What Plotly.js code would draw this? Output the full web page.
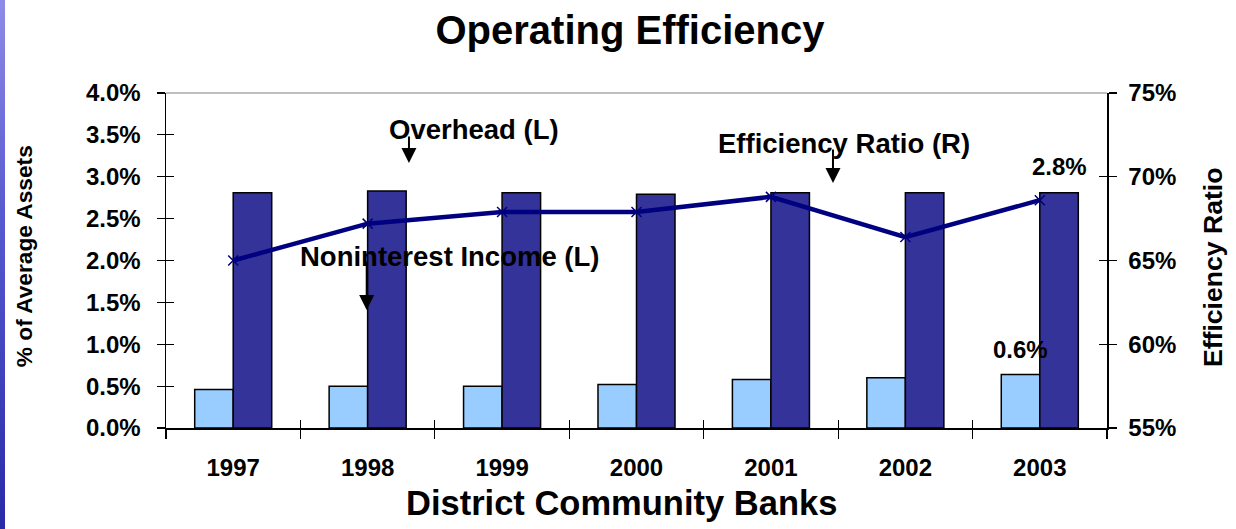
<!DOCTYPE html>
<html>
<head>
<meta charset="utf-8">
<script src="https://cdn.plot.ly/plotly-3.0.1.min.js"></script>
<style>
  html, body { margin: 0; padding: 0; background: #ffffff; }
  #chart { width: 1236px; height: 529px; }
  #strip { position: absolute; left: 0; top: 0; width: 5px; height: 529px;
           background: linear-gradient(to bottom, #8c8ce8 0%, #5a5ad0 40%, #2a2aa8 100%); z-index: 10; }
</style>
</head>
<body>
<div id="strip"></div>
<div id="chart"></div>
<script>
// ---- data ----
const years = ['1997', '1998', '1999', '2000', '2001', '2002', '2003'];
const noninterestIncome = [0.46, 0.50, 0.50, 0.52, 0.58, 0.60, 0.64];   // % of average assets (L)
const overhead = [2.81, 2.83, 2.81, 2.79, 2.81, 2.81, 2.81];           // % of average assets (L)
const efficiencyRatio = [65.0, 67.2, 67.9, 67.9, 68.8, 66.4, 68.6];    // % (R)
const leftTicks = [0, 0.5, 1.0, 1.5, 2.0, 2.5, 3.0, 3.5, 4.0];
const rightTicks = [55, 60, 65, 70, 75];

const FONT = 'Liberation Sans, Arial, sans-serif';
const last = years.length - 1;
const fmt = v => (Math.round(v * 10) / 10).toFixed(1) + '%';

const traces = [
  {
    type: 'bar', name: 'Noninterest Income (L)', x: years, y: noninterestIncome,
    marker: { color: '#99ccff', line: { color: '#000000', width: 1.5 } },
    hoverinfo: 'skip'
  },
  {
    type: 'bar', name: 'Overhead (L)', x: years, y: overhead,
    marker: { color: '#333399', line: { color: '#000000', width: 1.5 } },
    hoverinfo: 'skip'
  },
  {
    type: 'scatter', mode: 'lines+markers', name: 'Efficiency Ratio (R)', x: years, y: efficiencyRatio,
    yaxis: 'y2',
    line: { color: '#000080', width: 4.5 },
    marker: { symbol: 'x-thin', size: 10, line: { color: '#000080', width: 1.5 }, color: '#000080' },
    hoverinfo: 'skip'
  },
  // empty helper traces so the inner half of the crossing tick marks is drawn
  { type: 'scatter', x: [], y: [], yaxis: 'y3', showlegend: false, hoverinfo: 'skip' },
  { type: 'scatter', x: [], y: [], yaxis: 'y4', showlegend: false, hoverinfo: 'skip' },
  { type: 'scatter', x: [], y: [], xaxis: 'x2', showlegend: false, hoverinfo: 'skip' }
];

const arrow = (x, y, ay) => ({
  xref: 'paper', yref: 'paper', x: x, y: y, ax: 0, ay: ay, text: '',
  showarrow: true, arrowhead: 2, arrowsize: 1.5, arrowwidth: 2, arrowcolor: '#000000', standoff: 0
});
const label = (text, x, y, size, extra) => Object.assign({
  xref: 'paper', yref: 'paper', x: x, y: y, text: text, showarrow: false,
  xanchor: 'center', yanchor: 'middle',
  font: { family: FONT, size: size, color: '#000000', weight: 'bold' }
}, extra || {});

const annotations = [
  label('Overhead (L)', 0.3277, 0.8925, 27.5),
  arrow(0.2582, 0.791, -28),
  label('Noninterest Income (L)', 0.3018, 0.5131, 27.5),
  arrow(0.2133, 0.3522, -50),
  label('Efficiency Ratio (R)', 0.7200, 0.8507, 27.5),
  arrow(0.7088, 0.7313, -35),
  label('District Community Banks', 0.484, -0.2239, 34.5),
  label('% of Average Assets', -0.1509, 0.513, 22.7, { textangle: -90 }),
  label('Efficiency Ratio', 1.1121, 0.482, 26.6, { textangle: -90 }),
  {
    xref: 'x', yref: 'y', x: last, y: overhead[last], text: fmt(overhead[last]),
    showarrow: false, xanchor: 'center', yanchor: 'middle', xshift: 19.5, yshift: 26,
    font: { family: FONT, size: 24, color: '#000000', weight: 'bold' }
  },
  {
    xref: 'x', yref: 'y', x: last, y: noninterestIncome[last], text: fmt(noninterestIncome[last]),
    showarrow: false, xanchor: 'center', yanchor: 'middle', xshift: -19.5, yshift: 25,
    font: { family: FONT, size: 24, color: '#000000', weight: 'bold' }
  }
];

const tickFont = { family: FONT, size: 24, color: '#000000', weight: 'bold' };
const innerTicks = {
  showgrid: false, zeroline: false, showline: false, showticklabels: false,
  ticks: 'inside', ticklen: 8, tickcolor: '#000000', tickwidth: 1.2
};

const layout = {
  width: 1236, height: 529,
  margin: { l: 166, r: 129, t: 93, b: 101, pad: 0 },
  paper_bgcolor: '#ffffff', plot_bgcolor: '#ffffff',
  showlegend: false,
  barmode: 'group', bargap: 0.427, bargroupgap: 0,
  font: { family: FONT, color: '#000000' },
  title: {
    text: 'Operating Efficiency',
    font: { family: FONT, size: 40, color: '#000000', weight: 'bold' },
    xref: 'container', yref: 'container', x: 0.5097, y: 0.943, xanchor: 'center', yanchor: 'middle'
  },
  xaxis: {
    type: 'category', range: [-0.5, years.length - 0.5], autorange: false,
    showgrid: false, zeroline: false,
    showline: true, linecolor: '#000000', linewidth: 1.5,
    ticks: 'outside', tickson: 'boundaries', ticklen: 9, tickcolor: '#000000', tickwidth: 1.2,
    tickfont: tickFont, tickangle: 0,
    ticklabelstandoff: 18
  },
  xaxis2: Object.assign({}, innerTicks, {
    type: 'category', categoryarray: years, overlaying: 'x', side: 'bottom', anchor: 'y',
    range: [-0.5, years.length - 0.5], autorange: false, tickson: 'boundaries',
    tickvals: years
  }),
  yaxis: {
    range: [0, 4], autorange: false, tickvals: leftTicks, ticktext: leftTicks.map(v => v.toFixed(1) + '%'),
    showgrid: false, zeroline: false,
    showline: true, linecolor: '#000000', linewidth: 1.5,
    ticks: 'outside', ticklen: 8, tickcolor: '#000000', tickwidth: 1.2,
    tickfont: tickFont,
    ticklabelstandoff: 11
  },
  yaxis2: {
    overlaying: 'y', side: 'right', range: [55, 75], autorange: false,
    tickvals: rightTicks, ticktext: rightTicks.map(v => v + '%'),
    showgrid: false, zeroline: false,
    showline: true, linecolor: '#000000', linewidth: 1.5,
    ticks: 'outside', ticklen: 8, tickcolor: '#000000', tickwidth: 1.2,
    tickfont: tickFont,
    ticklabelstandoff: 7
  },
  yaxis3: Object.assign({}, innerTicks, {
    overlaying: 'y', side: 'left', range: [0, 4], autorange: false, tickvals: leftTicks
  }),
  yaxis4: Object.assign({}, innerTicks, {
    overlaying: 'y', side: 'right', range: [55, 75], autorange: false, tickvals: rightTicks
  }),
  shapes: [
    { type: 'line', xref: 'paper', yref: 'paper', x0: 0, x1: 1, y0: 1, y1: 1,
      line: { color: '#808080', width: 1.2 } }
  ],
  annotations: annotations
};

Plotly.newPlot('chart', traces, layout, { staticPlot: true, displayModeBar: false });
</script>
</body>
</html>
